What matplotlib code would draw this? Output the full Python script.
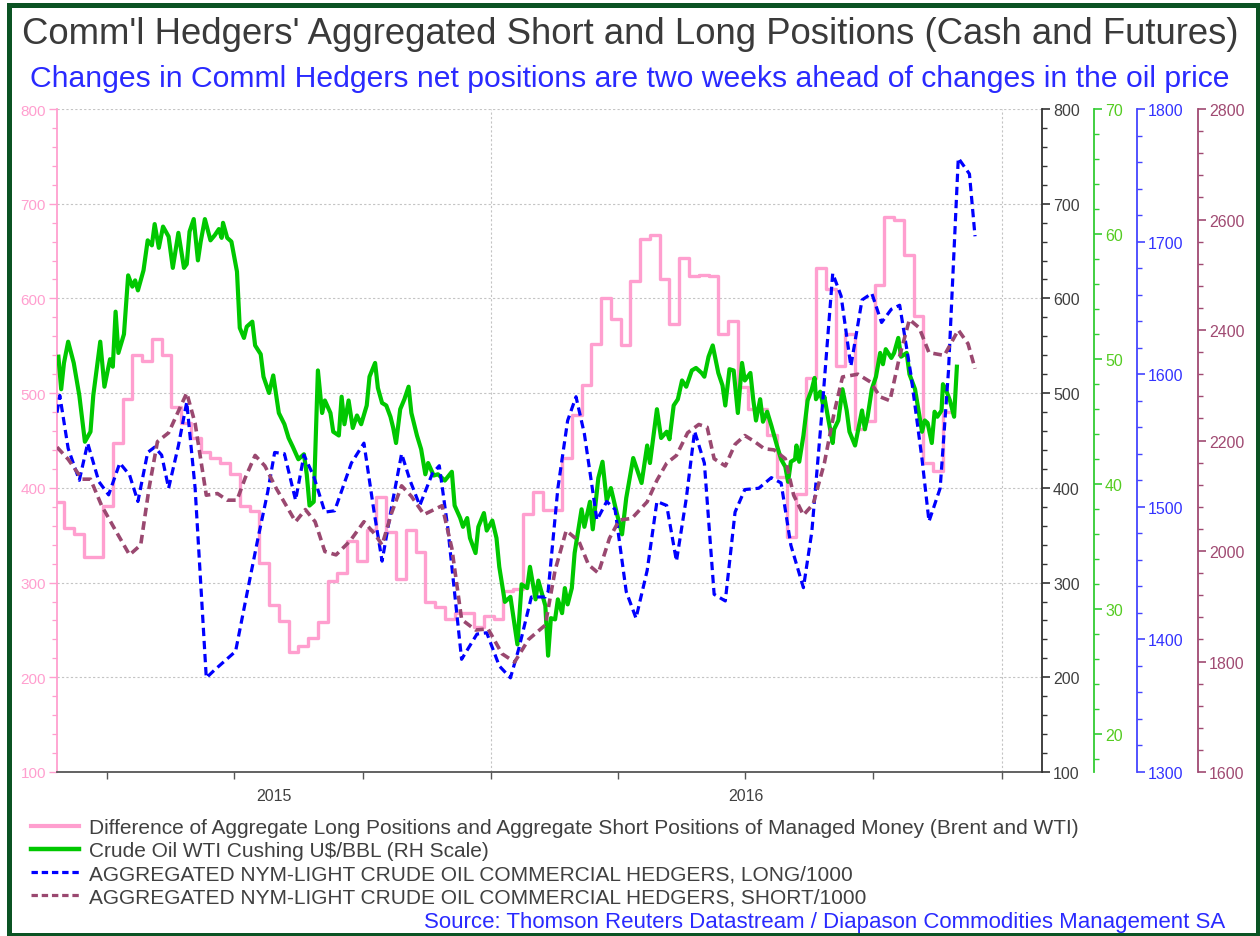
import numpy as np
import matplotlib
matplotlib.use("Agg")
import matplotlib.pyplot as plt
import matplotlib.dates as mdates
import matplotlib.transforms as mtransforms
from matplotlib.lines import Line2D
from matplotlib.patches import Rectangle
from matplotlib.ticker import MultipleLocator, NullFormatter

plt.rcParams['font.family'] = ['Liberation Sans', 'DejaVu Sans']

# ========== 数据 ==========
BASE = np.datetime64('2015-01-01')   # 日期偏移的起点
X_MIN = np.datetime64('2015-02-24')
X_MAX = np.datetime64('2017-01-30')

# 管理资金净多头差额 (周数据, 左轴)
PINK_START = np.datetime64('2015-02-22')
PINK = [385, 358, 351, 327, 327, 381, 447, 494, 540, 534,
        557, 540, 485, 468, 453, 438, 432, 426, 415, 381,
        376, 321, 276, 259, 227, 233, 242, 258, 302, 310,
        344, 323, 355, 390, 353, 304, 355, 332, 280, 274,
        262, 268, 268, 253, 265, 262, 291, 293, 372, 396,
        377, 377, 431, 477, 509, 552, 600, 578, 551, 618,
        663, 667, 620, 573, 643, 624, 625, 624, 562, 576,
        507, 483, 483, 456, 411, 348, 394, 516, 632, 610,
        529, 562, 462, 471, 614, 686, 683, 646, 581, 426,
        418, 480]

# WTI 原油价格 (天数自 2015-01-01)
GREEN_DAY = [55, 57, 59, 62, 66, 70, 74, 78, 80, 85,
             88, 92, 94, 96, 98, 102, 105, 108, 110, 112,
             116, 119, 122, 124, 127, 130, 134, 137, 141, 145,
             147, 149, 152, 155, 157, 160, 164, 167, 170, 172,
             173, 176, 179, 183, 185, 188, 190, 194, 196, 200,
             202, 206, 209, 213, 217, 220, 223, 227, 231,
             233, 235, 238, 241, 244, 246, 250, 252, 256, 258,
             260, 263, 266, 269, 272, 276, 278, 282, 284, 287,
             290, 293, 295, 297, 300, 303, 306, 308, 312, 315,
             318, 320, 324, 327, 332, 337, 339, 343, 345, 348,
             350, 354, 356, 360, 362, 366, 369, 371, 375, 379,
             381, 384, 387, 391, 393, 397, 399, 404,
             406, 408, 411, 413, 416, 418, 420, 423, 425, 430,
             432, 436, 438, 442, 445, 448, 451, 455, 459, 462,
             467, 473, 477, 479, 484, 487, 491, 493, 496, 499,
             502, 505, 509, 512, 516, 518, 521, 524, 528, 531,
             533, 536, 539, 542, 545, 547, 551, 553, 555, 558,
             560, 563, 566, 570, 573, 576,
             578, 580, 583, 584, 586, 589, 592, 595, 597, 598,
             601, 603, 604, 607, 610, 611, 614, 617, 620, 622,
             626, 629, 631, 633, 635, 638, 641, 644, 646, 648,
             652, 654, 657, 659, 663, 665, 669, 674, 676, 678,
             681, 683, 685, 688, 689, 691, 694, 697, 699]
GREEN = [50.2, 47.6, 49.7, 51.4, 49.7, 47.1, 43.4, 44.2, 47.1, 51.4,
         47.8, 50.0, 49.4, 53.8, 50.5, 52.0, 56.7, 55.8, 56.3, 55.5,
         57.1, 59.5, 59.1, 60.8, 58.9, 60.6, 59.8, 57.3, 60.1, 57.3,
         57.6, 60.2, 61.2, 57.9, 59.4, 61.2, 59.5, 59.9, 60.4, 59.7,
         60.9, 59.7, 59.4, 57.0, 52.5, 51.7, 52.6, 53.0, 51.1, 50.4,
         48.6, 47.3, 48.7, 45.7, 44.8, 43.7, 43.0, 42.0, 42.4,
         40.8, 38.3, 38.6, 49.1, 45.7, 46.7, 45.7, 44.2, 43.9, 47.0,
         44.8, 46.7, 44.5, 45.5, 44.8, 46.3, 48.6, 49.7, 47.7, 46.5,
         46.3, 45.4, 44.5, 43.3, 46.0, 46.8, 47.8, 45.7, 43.9, 42.8,
         40.8, 41.7, 40.7, 40.8, 40.3, 41.0, 38.3, 37.3, 36.6, 37.3,
         35.7, 34.5, 36.6, 37.7, 36.3, 37.1, 35.7, 33.4, 30.6, 31.0,
         29.5, 27.2, 32.0, 31.7, 33.4, 30.8, 32.3, 30.3,
         26.3, 29.3, 29.2, 30.8, 29.7, 31.7, 30.4, 31.7, 34.5, 38.0,
         36.6, 38.6, 36.4, 40.5, 41.8, 38.7, 39.7, 37.8, 36.0, 38.9,
         42.1, 40.1, 43.1, 41.7, 46.0, 43.7, 44.2, 43.6, 46.3, 46.8,
         48.3, 47.8, 49.1, 49.3, 48.9, 48.6, 50.2, 51.1, 48.9, 47.9,
         46.3, 49.2, 49.1, 45.7, 49.7, 48.3, 48.9, 46.8, 45.1, 46.8,
         45.0, 45.8, 44.7, 43.1, 42.0, 41.4,
         40.2, 41.8, 42.0, 43.1, 41.8, 43.9, 46.7, 47.6, 48.5, 46.8,
         47.4, 46.4, 47.0, 45.1, 43.3, 44.4, 45.1, 47.6, 45.9, 44.2,
         43.1, 44.8, 45.9, 44.4, 45.4, 47.6, 48.6, 50.5, 49.6, 50.8,
         50.1, 50.5, 51.7, 50.2, 50.5, 48.8, 47.6, 44.2, 45.1, 44.9,
         43.3, 45.8, 45.4, 45.9, 48.0, 47.6, 46.7, 45.4, 49.4]

# 商业套保者多头 /1000
BLUE_DAY = [54, 56, 62, 70, 76, 84, 91, 99, 106, 112,
            119, 124, 129, 134, 141, 147, 153, 161, 167, 182,
            191, 198, 205, 210, 217, 225, 231,
            238, 246, 253, 265, 274, 281, 287, 294, 301, 307,
            314, 323, 328, 334, 344, 355, 362, 371, 379, 385,
            394, 404,
            406, 413, 420, 426, 432, 441, 448, 454, 462, 469,
            477, 484, 491, 498, 505, 511, 518, 525, 533, 540,
            547, 557, 566, 573,
            580, 589, 595, 602, 610, 616, 623, 631, 638, 645,
            652, 658, 666, 674, 679, 687, 693, 700, 708, 712]
BLUE = [1571, 1584, 1544, 1520, 1548, 1519, 1509, 1533, 1524, 1504,
        1541, 1545, 1539, 1514, 1546, 1579, 1514, 1371, 1377, 1391,
        1439, 1476, 1511, 1541, 1540, 1505, 1539,
        1523, 1496, 1497, 1533, 1548, 1498, 1459, 1501, 1540, 1520,
        1501, 1525, 1531, 1485, 1385, 1404, 1405, 1380, 1371, 1393,
        1432, 1432,
        1436, 1514, 1565, 1583, 1555, 1490, 1504, 1498, 1436, 1416,
        1452, 1504, 1501, 1459, 1506, 1557, 1533, 1434, 1429, 1496,
        1513, 1514, 1522, 1518,
        1471, 1439, 1481, 1568, 1676, 1659, 1606, 1656, 1661, 1639,
        1649, 1652, 1600, 1536, 1489, 1514, 1603, 1763, 1751, 1704]

# 商业套保者空头 /1000
MAROON_DAY = [54, 62, 72, 78, 86, 96, 106, 114, 120, 126,
              134, 141, 147, 153, 161, 169, 176, 183, 189, 196,
              203, 211, 225, 232,
              239, 246, 254, 264, 274, 282, 287, 294, 301, 308,
              317, 330, 337, 344, 354, 363, 373, 382, 392, 404,
              411, 419, 428, 435, 442, 450, 457, 466, 477, 484,
              491, 498, 506, 514, 520, 525, 533, 540, 547, 554,
              561, 568, 576,
              582, 589, 596, 604, 611, 617, 628, 637, 644, 651,
              658, 665, 672, 679, 690, 700, 707, 712]
MAROON = [2188, 2166, 2130, 2130, 2082, 2037, 1993, 2011, 2114, 2198,
          2214, 2253, 2286, 2231, 2101, 2104, 2092, 2092, 2133, 2173,
          2154, 2114, 2053, 2075,
          2053, 1999, 1993, 2018, 2053, 2030, 2011, 2070, 2118, 2099,
          2066, 2082, 2005, 1876, 1857, 1859, 1814, 1799, 1840, 1866,
          1965, 2037, 2018, 1975, 1960, 2023, 2056, 2059, 2089, 2128,
          2159, 2173, 2214, 2229, 2224, 2167, 2154, 2193, 2209, 2198,
          2185, 2183, 2167,
          2101, 2065, 2085, 2159, 2250, 2315, 2320, 2306, 2279, 2272,
          2353, 2419, 2404, 2359, 2354, 2400, 2375, 2330]

LABELS = [
    "Difference of Aggregate Long Positions and Aggregate Short Positions of Managed Money (Brent and WTI)",
    "Crude Oil WTI Cushing U$/BBL (RH Scale)",
    "AGGREGATED NYM-LIGHT CRUDE OIL COMMERCIAL HEDGERS, LONG/1000",
    "AGGREGATED NYM-LIGHT CRUDE OIL COMMERCIAL HEDGERS, SHORT/1000",
]
TITLE = "Comm'l Hedgers' Aggregated Short and Long Positions (Cash and Futures)"
SUBTITLE = "Changes in Comml Hedgers net positions are two weeks ahead of changes in the oil price"
SOURCE = "Source: Thomson Reuters Datastream / Diapason Commodities Management SA"

# ========== 颜色 ==========
C_PINK = '#ff9fcf'
C_GREEN = '#00c800'
C_BLUE = '#0000ff'
C_MAROON = '#9a4870'


def days_to_dates(days):
    return BASE + np.asarray(days).astype('timedelta64[D]')


def style_right_axis(a, pos, color, labelcolor, lo, hi, major, minor):
    for s in ['left', 'top', 'bottom']:
        a.spines[s].set_visible(False)
    a.spines['right'].set_position(('axes', pos))
    a.spines['right'].set_color(color)
    a.spines['right'].set_linewidth(1.3)
    a.set_ylim(lo, hi)
    a.yaxis.set_major_locator(MultipleLocator(major))
    a.yaxis.set_minor_locator(MultipleLocator(minor))
    a.tick_params(axis='y', which='major', direction='out', length=6,
                  width=1.2, color=color, labelcolor=labelcolor,
                  labelsize=11.5, pad=2)
    a.tick_params(axis='y', which='minor', direction='out', length=3.5,
                  width=1.0, color=color)


fig = plt.figure(figsize=(12.6, 9.37), dpi=100)
W, H = 1260.0, 937.0
ax = fig.add_axes([57 / W, 1 - 773 / H, 985 / W, 663 / H])

# 粉色: 周阶梯
pink_dates = PINK_START + np.arange(len(PINK)) * np.timedelta64(7, 'D')
pink_x = np.append(pink_dates, pink_dates[-1] + np.timedelta64(7, 'D'))
pink_y = PINK + [PINK[-1]]
ax.plot(pink_x, pink_y, drawstyle='steps-post', color=C_PINK, lw=2.4)

ax.set_xlim(X_MIN, X_MAX)
ax.set_ylim(100, 800)
ax.yaxis.set_major_locator(MultipleLocator(100))
ax.yaxis.set_minor_locator(MultipleLocator(20))
ax.yaxis.grid(True, which='major', ls=(0, (2, 2)), color='#c4c4c4', lw=0.8)
for yr in ['2016-01-01', '2017-01-01']:
    ax.axvline(np.datetime64(yr), ls=(0, (2, 2)), color='#c4c4c4', lw=0.8)
ax.tick_params(axis='y', which='major', direction='out', length=6, width=1.0,
               color=C_PINK, labelcolor=C_PINK, labelsize=11, pad=2)
ax.tick_params(axis='y', which='minor', direction='out', length=3.5,
               width=0.9, color=C_PINK)
ax.spines['left'].set_color(C_PINK)
ax.spines['left'].set_linewidth(1.3)
ax.spines['bottom'].set_color('#555555')
ax.spines['bottom'].set_linewidth(1.3)
ax.spines['top'].set_visible(False)
ax.spines['right'].set_visible(False)

ax.xaxis.set_major_locator(mdates.MonthLocator(bymonth=[1, 4, 7, 10]))
ax.xaxis.set_major_formatter(NullFormatter())
ax.tick_params(axis='x', direction='out', length=5, width=1.0, color='#555555')

# 年份标签居中于可见年份区间
trans = mtransforms.blended_transform_factory(ax.transData, ax.transAxes)
x0 = mdates.date2num(X_MIN)
x1 = mdates.date2num(np.datetime64('2016-01-01'))
x2 = mdates.date2num(np.datetime64('2017-01-01'))
for xc, lab in [((x0 + x1) / 2, '2015'), ((x1 + x2) / 2, '2016')]:
    ax.text(xc, -0.036, lab, transform=trans, ha='center', va='center',
            fontsize=11.5, color='#404040')

# 右侧黑色刻度 (与左轴相同)
ax_r = ax.twinx()
style_right_axis(ax_r, 1.0, '#333333', '#404040', 100, 800, 100, 20)

ax_g = ax.twinx()
style_right_axis(ax_g, 1.0528, '#33cc33', '#55cc22', 17, 70, 10, 2)
ax_g.plot(days_to_dates(GREEN_DAY), GREEN, color=C_GREEN, lw=3.0)

ax_b = ax.twinx()
style_right_axis(ax_b, 1.0964, '#4444ff', '#3333ff', 1300, 1800, 100, 20)
ax_b.plot(days_to_dates(BLUE_DAY), BLUE, color=C_BLUE, lw=2.3,
          ls=(0, (2.6, 1.5)))

ax_m = ax.twinx()
style_right_axis(ax_m, 1.1584, '#a04a72', '#a04a72', 1600, 2800, 200, 40)
ax_m.plot(days_to_dates(MAROON_DAY), MAROON, color=C_MAROON, lw=2.6,
          ls=(0, (2.4, 1.4)))

for a in (ax_r, ax_g, ax_b, ax_m):
    a.set_xlim(X_MIN, X_MAX)

# 标题
fig.text(0.5, 1 - 35 / H, TITLE, ha='center', va='center', fontsize=26.3,
         color='#3a3a3a')
fig.text(0.5, 1 - 79 / H, SUBTITLE, ha='center', va='center', fontsize=21.7,
         color='#2a2aff')

# 图例
handles = [
    Line2D([], [], color=C_PINK, lw=3.0),
    Line2D([], [], color=C_GREEN, lw=3.2),
    Line2D([], [], color=C_BLUE, lw=2.3, ls=(0, (2.0, 1.2))),
    Line2D([], [], color=C_MAROON, lw=2.3, ls=(0, (2.0, 1.2))),
]
leg = fig.legend(handles, LABELS, loc='upper left',
                 bbox_to_anchor=(31 / W, 1 - 819 / H), frameon=False,
                 fontsize=15, handlelength=2.3, handletextpad=0.5,
                 labelspacing=0.2, borderpad=0, borderaxespad=0)
for t in leg.get_texts():
    t.set_color('#404040')

fig.text(1225 / W, 1 - 928 / H, SOURCE, ha='right', va='baseline',
         fontsize=16, color='#2a2aff')

# 外框
fig.patches.append(Rectangle((8.5 / W, 1 - 936 / H), 1249 / W, 930.5 / H,
                             transform=fig.transFigure, fill=False,
                             edgecolor='#0b5323', lw=3.6, zorder=10))

fig.savefig('out.png', dpi=100)
